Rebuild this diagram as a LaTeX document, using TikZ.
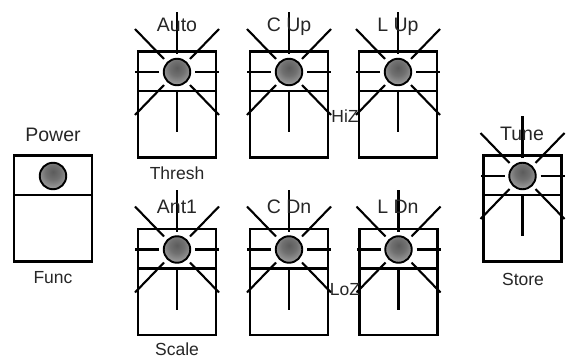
\documentclass[tikz,border=0pt]{standalone}
\usepackage{fontspec}
\setmainfont{Liberation Sans}
\usetikzlibrary{calc}
\pgfdeclareradialshading{ledball}{\pgfpoint{0bp}{8bp}}{color(0bp)=(black!64); color(14bp)=(black!56); color(30bp)=(black!38); color(48bp)=(black!16); color(100bp)=(black!8)}
\tikzset{
  panel/.style={draw=black,line width=2.1pt,minimum width=78pt,minimum height=106pt,inner sep=0pt,outer sep=0pt},
  led/.style={circle,draw=black,line width=1.9pt,minimum size=26.5pt,inner sep=0pt,shading=ledball},
  ray/.style={draw=black,line width=2.1pt},
  divider/.style={draw=black,line width=2.1pt},
  biglabel/.style={font=\fontsize{19.5}{20}\selectfont,text=black!85,inner sep=0pt},
  smalllabel/.style={font=\fontsize{17.5}{18}\selectfont,text=black!85,inner sep=0pt}
}
% name, led x, led y
\newcommand{\plainbutton}[3]{%
  \node[panel] (#1box) at (#2,#3+32.5) {};
  \coordinate (#1dl) at (#2-39,#3+19);
  \coordinate (#1dr) at (#2+39,#3+19);
  \draw[divider] (#1dl) -- (#1dr);
  \node[led] (#1) at (#2,#3) {};
}
\newcommand{\raybutton}[3]{%
  \plainbutton{#1}{#2}{#3}
  \foreach \dx/\dy/\ix/\iy in {-42/0/-18/0,42/0/18/0,0/-60/0/-18,0/60/0/18,-42/-43/-13/-13,42/-43/13/-13,-42/43/-13/13,42/43/13/13}{
    \draw[ray] ($(#2,#3)+(\ix,\iy)$) -- ($(#2,#3)+(\dx,\dy)$);
  }
}
\begin{document}
\begin{tikzpicture}[x=1pt,y=-1pt]
\useasboundingbox (0,0) rectangle (572,358);
\plainbutton{power}{53}{176}
\raybutton{auto}{177}{72}
\raybutton{cup}{289}{72}
\raybutton{lup}{398}{72}
\raybutton{ant}{177}{249.5}
\raybutton{cdn}{289}{249.5}
\raybutton{ldn}{398.5}{249.5}
\raybutton{tune}{522.5}{176}
\node[biglabel] (tpower) at (53,134.5) {Power};
\node[smalllabel] (tfunc) at (53,278) {Func};
\node[biglabel] (tauto) at (177,25) {Auto};
\node[biglabel] (tcup) at (289,27) {C Up};
\node[biglabel] (tlup) at (398,27) {L Up};
\node[smalllabel] (tthresh) at (177,173) {Thresh};
\node[smalllabel] (thiz) at (345,116) {HiZ};
\node[biglabel] (tant) at (177,206.5) {Ant1};
\node[biglabel] (tcdn) at (289,207) {C Dn};
\node[biglabel] (tldn) at (398,207) {L Dn};
\node[smalllabel] (tloz) at (345,290) {LoZ};
\node[smalllabel] (tscale) at (177,349.5) {Scale};
\node[biglabel] (ttune) at (522,134) {Tune};
\node[smalllabel] (tstore) at (523,279) {Store};
\end{tikzpicture}
\end{document}
